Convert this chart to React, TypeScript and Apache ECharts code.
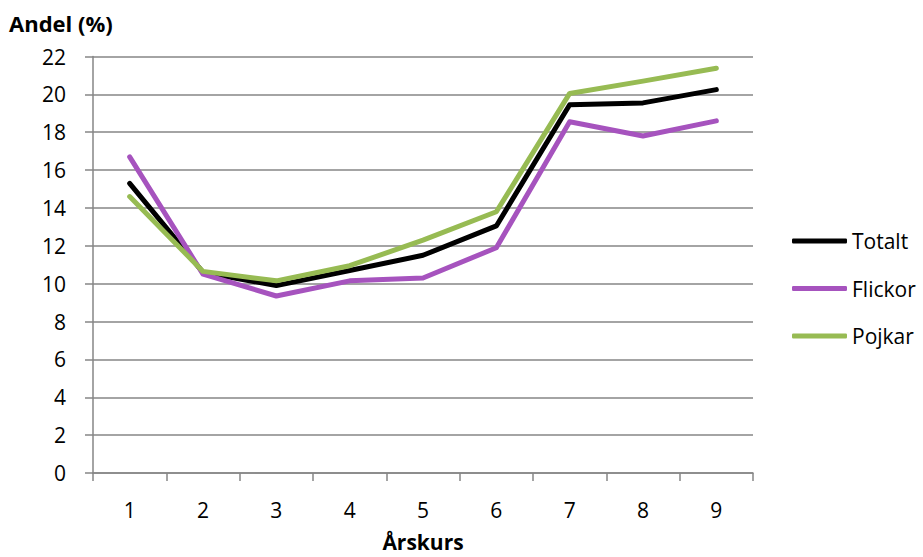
import React, { useEffect, useRef } from "react";
import * as echarts from "echarts";

const categories = ["1", "2", "3", "4", "5", "6", "7", "8", "9"];
const totalt = [15.3, 10.6, 9.9, 10.7, 11.5, 13.05, 19.45, 19.55, 20.25];
const flickor = [16.7, 10.5, 9.35, 10.15, 10.3, 11.9, 18.55, 17.8, 18.6];
const pojkar = [14.6, 10.65, 10.15, 10.95, 12.3, 13.8, 20.05, 20.7, 21.38];
const yTicks = { min: 0, max: 22, interval: 2 };

const FONT = "'Open Sans', 'Noto Sans', sans-serif";

export default function App() {
  const ref = useRef<HTMLDivElement>(null);
  useEffect(() => {
    if (!ref.current) return;
    const chart = echarts.init(ref.current, null, { renderer: "svg" });
    const lineSeries = (name: string, data: number[], color: string) => ({
      name,
      type: "line",
      data,
      showSymbol: false,
      symbol: "none",
      color,
      lineStyle: { color, width: 5, cap: "round", join: "round" },
    });
    chart.setOption({
      animation: false,
      backgroundColor: "#ffffff",
      textStyle: { fontFamily: FONT },
      grid: { left: 93, right: 170, top: 56.5, bottom: 84, outerBoundsMode: "none", containLabel: false },
      legend: {
        orient: "vertical",
        left: 787,
        top: 225.5,
        itemWidth: 55,
        itemHeight: 5,
        itemGap: 26.5,
        icon: "roundRect",
        textStyle: { fontSize: 21, color: "#000", fontFamily: FONT },
        data: ["Totalt", "Flickor", "Pojkar"],
      },
      graphic: [
        {
          type: "text",
          left: 9,
          top: 12,
          style: { text: "Andel (%)", font: `bold 22px ${FONT}`, fill: "#000" },
        },
      ],
      xAxis: {
        type: "category",
        data: categories,
        boundaryGap: true,
        name: "Årskurs",
        nameLocation: "middle",
        nameGap: 58,
        nameTextStyle: { fontSize: 21, fontWeight: "bold", color: "#000", fontFamily: FONT },
        axisLine: { lineStyle: { color: "#868686", width: 1.5 } },
        axisTick: { show: true, length: 8, lineStyle: { color: "#868686", width: 1.5 } },
        axisLabel: { fontSize: 21, color: "#000", margin: 26, fontFamily: FONT },
        splitLine: { show: false },
      },
      yAxis: {
        type: "value",
        min: yTicks.min,
        max: yTicks.max,
        interval: yTicks.interval,
        axisLine: { show: true, lineStyle: { color: "#868686", width: 1.5 } },
        axisTick: { show: true, length: 8, lineStyle: { color: "#868686", width: 1.5 } },
        axisLabel: { fontSize: 21, color: "#000", margin: 27, fontFamily: FONT },
        splitLine: { show: true, lineStyle: { color: "#868686", width: 1.5 } },
      },
      series: [
        lineSeries("Totalt", totalt, "#000000"),
        lineSeries("Flickor", flickor, "#A653BE"),
        lineSeries("Pojkar", pojkar, "#97BB53"),
      ],
    });
    return () => chart.dispose();
  }, []);
  return (
    <div
      ref={ref}
      style={{ position: "fixed", left: 0, top: 0, width: 923, height: 557, background: "#fff" }}
    />
  );
}
